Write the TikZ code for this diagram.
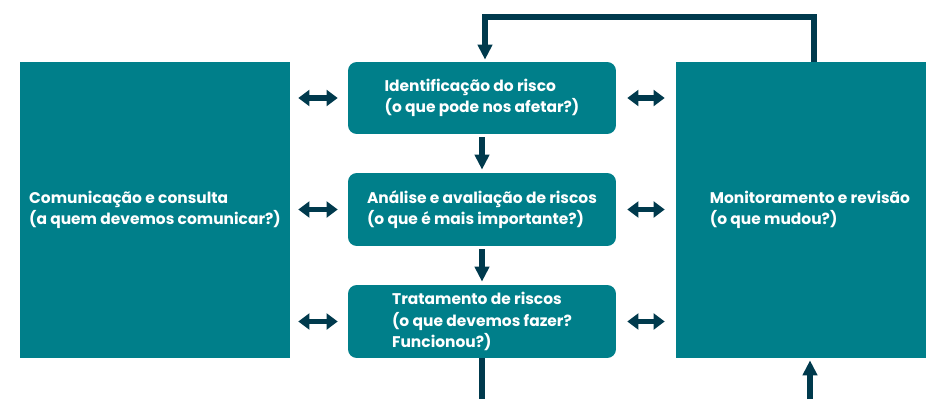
\documentclass[tikz,border=0pt]{standalone}
\usepackage{fontspec}
\setmainfont{Poppins}
\usetikzlibrary{arrows.meta}

\definecolor{tealbox}{RGB}{0,127,138}
\definecolor{navy}{RGB}{0,58,77}

\tikzset{
  box/.style={fill=tealbox, text=white, inner sep=0pt, align=left,
    font=\fontsize{8.8}{12}\selectfont\bfseries},
  stepbox/.style={box, rounded corners=5pt, minimum width=5.36cm, minimum height=1.46cm},
  sidebox/.style={box, minimum height=5.92cm},
  flow/.style={navy, line width=3.4pt, -{Triangle[width=8pt,length=8.5pt]}},
  link/.style={navy, line width=3pt, {Triangle[width=9pt,length=6.3pt]}-{Triangle[width=9pt,length=6.3pt]}},
}

\begin{document}
\begin{tikzpicture}[x=0.02cm, y=-0.02cm]
\useasboundingbox (0,0) rectangle (926,399);
\clip (0,0) rectangle (926,399);

% boxes
\node[sidebox, minimum width=5.4cm] (comm) at (155,210) {Comunicação e consulta\\(a quem devemos comunicar?)};
\node[sidebox, minimum width=5.36cm] (monit) at (810,210) {Monitoramento e revisão\\(o que mudou?)};
\node[stepbox, minimum height=1.44cm] (ident) at (482,98) {Identificação do risco\\(o que pode nos afetar?)};
\node[stepbox] (anal) at (482,209.5) {Análise e avaliação de riscos\\(o que é mais importante?)};
\node[stepbox] (treat) at (482,321.5) {Tratamento de riscos\\(o que devemos fazer?\\Funcionou?)};

% main flow
\draw[flow, shorten <=0.06cm, shorten >=0.06cm] (ident) -- (anal);
\draw[flow, shorten <=0.06cm, shorten >=0.06cm] (anal) -- (treat);
\coordinate (out) at (482,399);
\draw[navy, line width=3.4pt] (treat) -- (out);

% feedback
\coordinate (loop) at (814,17);
\draw[flow, shorten >=0.04cm] (loop |- monit.north) -- (loop) -| ([xshift=0.06cm]ident.north);
\coordinate (back) at (810,399);
\draw[flow, shorten >=0.04cm] (back) -- (back |- monit.south);

% side links
\foreach \s in {ident, anal, treat} {
  \draw[link, shorten <=0.16cm, shorten >=0.2cm] (comm.east |- \s) -- (\s.west);
  \draw[link, shorten <=0.22cm, shorten >=0.22cm] (\s.east) -- (monit.west |- \s);
}
\end{tikzpicture}
\end{document}
